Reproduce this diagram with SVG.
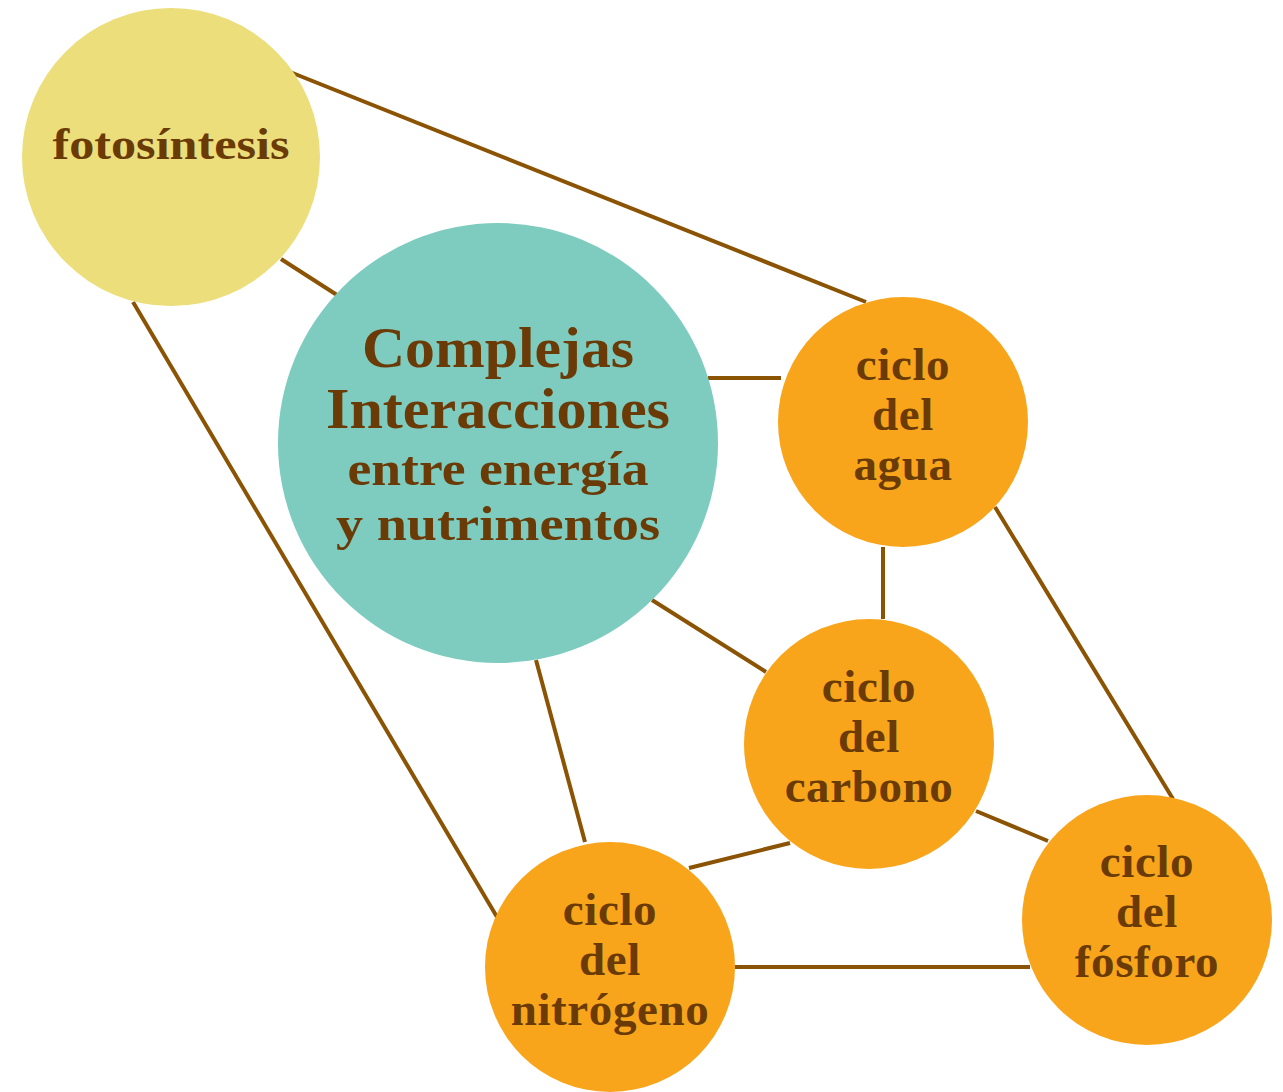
<svg xmlns="http://www.w3.org/2000/svg" width="1283" height="1092" viewBox="0 0 1283 1092">
<style>
.ln{stroke:#8B5304;stroke-width:4;fill:none;stroke-linecap:butt}
.t{font-family:"Liberation Serif","DejaVu Serif",serif;font-weight:bold;fill:#6A3B06;text-anchor:middle}
.o{fill:#F8A51C}
.s{font-size:47px;letter-spacing:0.6px}
</style>
<rect width="1283" height="1092" fill="#FFFFFF"/>
<g id="connectors">
<line class="ln" x1="290" y1="72" x2="866" y2="302"/>
<line class="ln" x1="281" y1="259" x2="337" y2="295"/>
<line class="ln" x1="708" y1="378" x2="781" y2="378"/>
<line class="ln" x1="883" y1="547" x2="883" y2="619"/>
<line class="ln" x1="652" y1="600" x2="766" y2="672"/>
<line class="ln" x1="536" y1="660" x2="585" y2="842"/>
<line class="ln" x1="133" y1="302" x2="497" y2="917"/>
<line class="ln" x1="995" y1="507" x2="1173" y2="799"/>
<line class="ln" x1="976" y1="811" x2="1048" y2="841"/>
<line class="ln" x1="790" y1="843" x2="689" y2="868"/>
<line class="ln" x1="735" y1="967" x2="1030" y2="967"/>
</g>
<g id="fotosintesis">
<circle cx="171" cy="157" r="149" fill="#ECDE7A"/>
<text class="t" x="171" y="159" font-size="44" textLength="237" lengthAdjust="spacingAndGlyphs">fotosíntesis</text>
</g>
<g id="complejas">
<circle cx="498" cy="443" r="220" fill="#7ECCC0"/>
<text class="t" x="498" y="367" font-size="56" textLength="272" lengthAdjust="spacingAndGlyphs">Complejas</text>
<text class="t" x="498" y="428" font-size="56" textLength="344" lengthAdjust="spacingAndGlyphs">Interacciones</text>
<text class="t" x="498" y="485" font-size="48" textLength="301" lengthAdjust="spacingAndGlyphs">entre energía</text>
<text class="t" x="498" y="540" font-size="48" textLength="324" lengthAdjust="spacingAndGlyphs">y nutrimentos</text>
</g>
<g id="agua">
<circle class="o" cx="903" cy="422" r="125"/>
<text class="t s" x="903" y="380">ciclo</text>
<text class="t s" x="903" y="430">del</text>
<text class="t s" x="903" y="480">agua</text>
</g>
<g id="carbono">
<circle class="o" cx="869" cy="744" r="125"/>
<text class="t s" x="869" y="702">ciclo</text>
<text class="t s" x="869" y="752">del</text>
<text class="t s" x="869" y="802">carbono</text>
</g>
<g id="fosforo">
<circle class="o" cx="1147" cy="920" r="125"/>
<text class="t s" x="1147" y="877">ciclo</text>
<text class="t s" x="1147" y="927">del</text>
<text class="t s" x="1147" y="977">fósforo</text>
</g>
<g id="nitrogeno">
<circle class="o" cx="610" cy="967" r="125"/>
<text class="t s" x="610" y="925">ciclo</text>
<text class="t s" x="610" y="975">del</text>
<text class="t s" x="610" y="1025">nitrógeno</text>
</g>
</svg>
